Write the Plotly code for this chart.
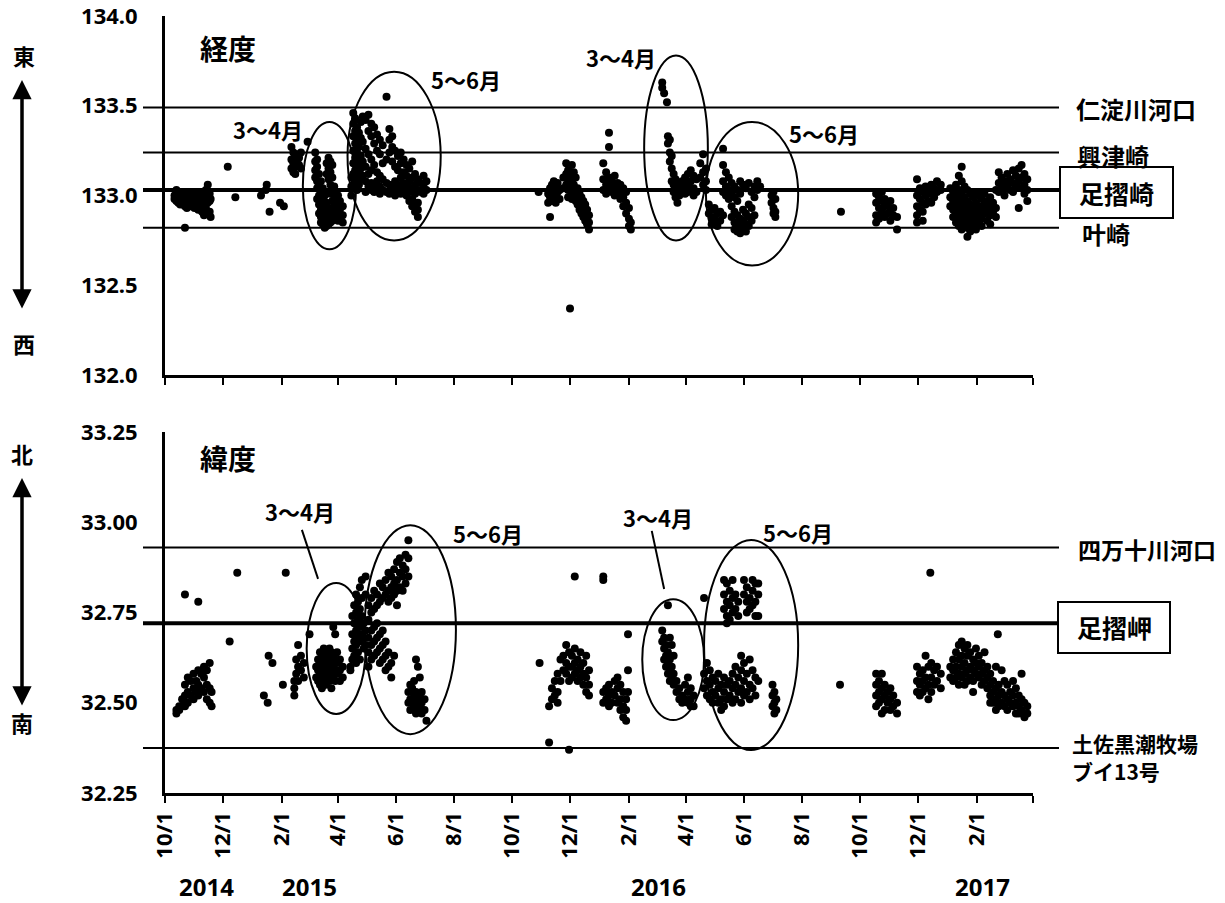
import plotly.graph_objects as go

# ---------------------------------------------------------------------------
# Observations: (date, [values recorded around that date])
# ---------------------------------------------------------------------------
LON_2014_AUTUMN = [
    ("2014-10-11", [133.00, 132.98]), ("2014-10-13", [133.03, 132.97]),
    ("2014-10-15", [132.99, 132.96]), ("2014-10-17", [133.02, 132.98, 132.95]),
    ("2014-10-20", [133.00, 132.97]), ("2014-10-22", [132.99, 132.94, 132.82]),
    ("2014-10-24", [133.01, 132.96, 132.93]), ("2014-10-26", [132.98, 132.95]),
    ("2014-10-28", [133.00, 132.97, 132.94]), ("2014-10-30", [132.99, 132.96]),
    ("2014-11-01", [133.01, 132.97, 132.93]), ("2014-11-03", [132.98, 132.95]),
    ("2014-11-05", [133.00, 132.96, 132.92]), ("2014-11-07", [132.99, 132.94]),
    ("2014-11-09", [133.02, 132.97, 132.91]), ("2014-11-11", [132.99, 132.95, 132.89]),
    ("2014-11-13", [133.03, 132.98, 132.93]), ("2014-11-15", [133.06, 133.00, 132.96]),
    ("2014-11-17", [133.01, 132.97, 132.91]), ("2014-11-18", [132.98, 132.88]),
    ("2014-12-06", [133.16]), ("2014-12-14", [132.99]),
]
LON_2015_WINTER = [
    ("2015-01-10", [133.00]), ("2015-01-15", [133.03]), ("2015-01-16", [133.06]),
    ("2015-01-19", [132.91]), ("2015-01-30", [132.96]), ("2015-02-03", [132.94]),
    ("2015-02-11", [133.27, 133.20, 133.15]), ("2015-02-13", [133.24, 133.18, 133.13]),
    ("2015-02-15", [133.22, 133.16, 133.12]), ("2015-02-17", [133.23, 133.19]),
    ("2015-02-19", [133.21, 133.17]), ("2015-02-21", [133.24, 133.15]),
    ("2015-02-28", [133.30]),
]
LON_2015_SPRING = [
    ("2015-03-08", [133.24, 133.19, 133.14, 133.10]),
    ("2015-03-10", [133.20, 133.16, 133.08, 133.04, 132.98]),
    ("2015-03-12", [133.12, 133.05, 133.00, 132.95, 132.90]),
    ("2015-03-14", [133.08, 133.02, 132.97, 132.92, 132.88, 132.85]),
    ("2015-03-16", [133.04, 132.99, 132.94, 132.89, 132.84]),
    ("2015-03-18", [133.00, 132.95, 132.90, 132.86, 132.82]),
    ("2015-03-20", [133.18, 133.12, 132.96, 132.91, 132.87, 132.83]),
    ("2015-03-22", [133.21, 133.15, 133.09, 132.93, 132.88, 132.84]),
    ("2015-03-24", [133.19, 133.13, 133.06, 133.01, 132.90, 132.85]),
    ("2015-03-26", [133.17, 133.10, 133.03, 132.97, 132.91, 132.86]),
    ("2015-03-28", [133.05, 133.00, 132.95, 132.90, 132.87]),
    ("2015-03-30", [133.02, 132.98, 132.93, 132.88]),
    ("2015-04-01", [133.00, 132.95, 132.91, 132.86]),
    ("2015-04-03", [132.97, 132.92, 132.87]),
    ("2015-04-06", [132.94, 132.89, 132.85]),
]
LON_2015_SUMMER = [
    ("2015-04-15", [133.10, 133.05, 133.00]),
    ("2015-04-17", [133.46, 133.40, 133.33, 133.25, 133.18, 133.12, 133.06]),
    ("2015-04-19", [133.43, 133.36, 133.29, 133.21, 133.14, 133.08]),
    ("2015-04-21", [133.38, 133.31, 133.24, 133.17, 133.10, 133.03]),
    ("2015-04-23", [133.35, 133.27, 133.20, 133.13, 133.06]),
    ("2015-04-25", [133.41, 133.32, 133.22, 133.15, 133.09]),
    ("2015-04-27", [133.44, 133.30, 133.19, 133.11]),
    ("2015-04-30", [133.42, 133.26, 133.16, 133.08, 133.02]),
    ("2015-05-03", [133.45, 133.36, 133.23, 133.12, 133.05]),
    ("2015-05-06", [133.40, 133.33, 133.20, 133.14, 133.07, 133.03]),
    ("2015-05-09", [133.38, 133.29, 133.17, 133.06, 133.02]),
    ("2015-05-12", [133.34, 133.25, 133.13, 133.08, 133.04]),
    ("2015-05-15", [133.31, 133.23, 133.11, 133.05, 133.01]),
    ("2015-05-18", [133.28, 133.18, 133.09, 133.03]),
    ("2015-05-22", [133.55, 133.20, 133.07, 133.02]),
    ("2015-05-25", [133.37, 133.31, 133.24, 133.06, 133.01]),
    ("2015-05-28", [133.33, 133.27, 133.19, 133.05, 133.03]),
    ("2015-05-31", [133.25, 133.16, 133.08, 133.04, 133.00]),
    ("2015-06-03", [133.22, 133.14, 133.06, 133.02]),
    ("2015-06-06", [133.24, 133.18, 133.10, 133.04, 133.01]),
    ("2015-06-09", [133.20, 133.13, 133.07, 133.03]),
    ("2015-06-12", [133.17, 133.11, 133.05, 133.00]),
    ("2015-06-15", [133.15, 133.08, 133.02, 132.97]),
    ("2015-06-18", [133.19, 133.10, 133.04, 132.98, 132.94]),
    ("2015-06-21", [133.12, 133.06, 133.01, 132.95, 132.91]),
    ("2015-06-24", [133.09, 133.03, 132.96, 132.92, 132.88]),
    ("2015-06-27", [133.07, 133.02]),
    ("2015-06-30", [133.11, 133.05, 133.01]),
    ("2015-07-03", [133.08, 133.03]),
]
LON_2015_AUTUMN = [
    ("2015-10-29", [133.02]), ("2015-11-08", [133.01, 132.96]),
    ("2015-11-10", [133.04, 132.99, 132.88]), ("2015-11-12", [133.06, 133.01, 132.97]),
    ("2015-11-14", [133.08, 133.03]), ("2015-11-16", [133.05, 133.00, 132.96]),
    ("2015-11-18", [133.07, 133.02]), ("2015-11-20", [133.03, 132.98]),
    ("2015-11-24", [133.10, 133.04]), ("2015-11-27", [133.18, 133.12, 133.06]),
    ("2015-11-29", [133.14, 133.09, 133.03, 132.99]), ("2015-12-01", [133.11, 133.05, 132.37]),
    ("2015-12-03", [133.17, 133.08, 133.02, 132.98]), ("2015-12-05", [133.13, 133.06, 133.00]),
    ("2015-12-07", [133.10, 133.03, 132.97]), ("2015-12-09", [133.04, 133.00, 132.95]),
    ("2015-12-11", [133.01, 132.96, 132.92]), ("2015-12-13", [132.99, 132.94, 132.90]),
    ("2015-12-15", [132.97, 132.92, 132.88]), ("2015-12-17", [132.95, 132.90, 132.86]),
    ("2015-12-19", [132.92, 132.87, 132.84]), ("2015-12-21", [132.89, 132.85, 132.81]),
]
LON_2016_WINTER = [
    ("2016-01-05", [133.18, 133.09, 133.03]), ("2016-01-08", [133.13, 133.06, 133.01]),
    ("2016-01-11", [133.35, 133.27, 133.10, 133.04]), ("2016-01-14", [133.08, 133.02]),
    ("2016-01-17", [133.11, 133.05, 133.00]), ("2016-01-20", [133.07, 133.03]),
    ("2016-01-23", [133.06, 133.01, 132.98]), ("2016-01-26", [133.04, 132.99, 132.94]),
    ("2016-01-29", [133.02, 132.96, 132.90]), ("2016-02-01", [132.93, 132.87, 132.83]),
    ("2016-02-03", [132.85, 132.81]),
]
LON_2016_SPRING = [
    ("2016-03-07", [133.63, 133.60]), ("2016-03-09", [133.57]), ("2016-03-12", [133.52]),
    ("2016-03-13", [133.33, 133.29]), ("2016-03-15", [133.31, 133.24, 133.19]),
    ("2016-03-17", [133.22, 133.15, 133.08]), ("2016-03-19", [133.12, 133.06, 133.02]),
    ("2016-03-21", [133.09, 133.04, 132.99]), ("2016-03-23", [133.07, 133.01, 132.96]),
    ("2016-03-25", [133.05, 133.00]), ("2016-03-28", [133.08, 133.03]),
    ("2016-03-31", [133.10, 133.05, 133.01]), ("2016-04-03", [133.12, 133.06, 133.02]),
    ("2016-04-06", [133.14, 133.08, 133.03]), ("2016-04-09", [133.11, 133.04, 133.00]),
    ("2016-04-12", [133.09, 133.02]), ("2016-04-16", [133.18, 133.10]),
    ("2016-04-19", [133.23, 133.13, 133.06]), ("2016-04-22", [133.15, 133.08, 133.03]),
]
LON_2016_SUMMER = [
    ("2016-04-25", [132.95, 132.90]), ("2016-04-28", [132.92, 132.87, 132.84]),
    ("2016-05-01", [132.93, 132.88]), ("2016-05-04", [132.90, 132.85, 132.83]),
    ("2016-05-07", [132.91, 132.86]),
    ("2016-05-10", [133.26, 133.17, 133.08, 133.02, 132.89]),
    ("2016-05-13", [133.13, 133.05, 133.00]), ("2016-05-16", [133.10, 133.03, 132.98]),
    ("2016-05-19", [133.07, 133.01, 132.94, 132.88]),
    ("2016-05-22", [133.05, 132.99, 132.91, 132.85, 132.81]),
    ("2016-05-25", [133.03, 132.97, 132.89, 132.84, 132.80]),
    ("2016-05-28", [133.08, 133.01, 132.87, 132.83, 132.79]),
    ("2016-05-31", [133.06, 132.92, 132.86, 132.82]),
    ("2016-06-03", [133.04, 132.90, 132.84, 132.80]),
    ("2016-06-06", [133.07, 132.95, 132.88, 132.83]),
    ("2016-06-09", [133.02, 132.93, 132.86]), ("2016-06-12", [133.05, 132.99, 132.89]),
    ("2016-06-15", [133.08, 133.03]), ("2016-06-18", [133.05]),
    ("2016-06-30", [133.00, 132.96]), ("2016-07-02", [133.02, 132.93, 132.90]),
    ("2016-07-04", [132.98, 132.91, 132.88]), ("2016-09-11", [132.91]),
]
LON_2016_AUTUMN = [
    ("2016-10-18", [133.01, 132.96, 132.89, 132.85]), ("2016-10-21", [132.99, 132.93, 132.87]),
    ("2016-10-24", [133.02, 132.97, 132.91]), ("2016-10-27", [132.98, 132.94, 132.88]),
    ("2016-10-30", [132.95, 132.90]), ("2016-11-02", [132.97, 132.92, 132.86]),
    ("2016-11-05", [132.93, 132.89]), ("2016-11-09", [132.88, 132.81]),
    ("2016-11-30", [133.09, 133.00, 132.94, 132.89, 132.85]),
    ("2016-12-03", [133.04, 132.98, 132.92]), ("2016-12-06", [133.02, 132.96, 132.91, 132.86]),
    ("2016-12-09", [133.05, 133.00, 132.95]), ("2016-12-12", [133.03, 132.97]),
    ("2016-12-15", [133.06, 133.01, 132.96]), ("2016-12-18", [133.04, 132.99]),
    ("2016-12-21", [133.08, 133.02]), ("2016-12-25", [133.06, 133.03]),
]
LON_2017_WINTER = [
    ("2017-01-04", [133.04, 132.99, 132.94]), ("2017-01-07", [133.02, 132.97, 132.92, 132.88]),
    ("2017-01-10", [133.06, 133.00, 132.95, 132.90, 132.85]),
    ("2017-01-13", [133.11, 133.03, 132.98, 132.93, 132.88, 132.83]),
    ("2017-01-16", [133.16, 133.08, 133.01, 132.96, 132.91, 132.86, 132.81]),
    ("2017-01-19", [133.05, 132.99, 132.94, 132.89, 132.84]),
    ("2017-01-22", [133.03, 132.97, 132.92, 132.87, 132.82, 132.77]),
    ("2017-01-25", [133.01, 132.95, 132.90, 132.85, 132.80]),
    ("2017-01-28", [132.99, 132.93, 132.88, 132.84]),
    ("2017-01-31", [133.02, 132.96, 132.91, 132.86, 132.81]),
    ("2017-02-03", [133.00, 132.94, 132.89, 132.85]),
    ("2017-02-06", [132.98, 132.92, 132.87, 132.83]),
    ("2017-02-09", [133.01, 132.95, 132.90]), ("2017-02-12", [132.97, 132.92, 132.86]),
    ("2017-02-15", [132.99, 132.94, 132.89, 132.84]), ("2017-02-18", [132.96, 132.91]),
    ("2017-02-21", [133.03, 132.93, 132.88]), ("2017-02-24", [133.13, 133.07, 133.02]),
    ("2017-02-27", [133.10, 133.05]), ("2017-03-02", [133.08, 133.04, 133.00]),
    ("2017-03-05", [133.12, 133.06]), ("2017-03-08", [133.09, 133.03]),
    ("2017-03-11", [133.14, 133.07, 133.02]), ("2017-03-14", [133.11, 133.05]),
    ("2017-03-17", [133.15, 133.08, 132.93]), ("2017-03-20", [133.17, 133.10, 133.04]),
    ("2017-03-23", [133.12, 133.06, 133.01]), ("2017-03-26", [133.09, 133.03, 132.97]),
]

LAT_2014_AUTUMN = [
    ("2014-10-13", [32.48, 32.47]), ("2014-10-16", [32.49, 32.48]),
    ("2014-10-19", [32.51, 32.49]), ("2014-10-22", [32.80, 32.55, 32.52, 32.49]),
    ("2014-10-25", [32.57, 32.53, 32.50]), ("2014-10-28", [32.56, 32.52]),
    ("2014-10-31", [32.58, 32.54, 32.51]), ("2014-11-03", [32.56, 32.53]),
    ("2014-11-05", [32.78, 32.59, 32.55, 32.52]), ("2014-11-08", [32.58, 32.54]),
    ("2014-11-11", [32.60, 32.57, 32.53]), ("2014-11-14", [32.59, 32.55, 32.51]),
    ("2014-11-17", [32.61, 32.54, 32.50]), ("2014-11-19", [32.53, 32.49]),
    ("2014-12-08", [32.67]), ("2014-12-16", [32.86]),
]
LAT_2015_WINTER = [
    ("2015-01-13", [32.52]), ("2015-01-17", [32.50]), ("2015-01-18", [32.63]),
    ("2015-01-22", [32.61]), ("2015-02-02", [32.55]), ("2015-02-05", [32.86]),
    ("2015-02-14", [32.56, 32.54, 32.52]), ("2015-02-16", [32.62, 32.58]),
    ("2015-02-18", [32.66, 32.60, 32.56]), ("2015-02-21", [32.63, 32.59]),
    ("2015-02-24", [32.61, 32.57]), ("2015-03-02", [32.69]),
]
LAT_2015_SPRING = [
    ("2015-03-09", [32.60, 32.57]), ("2015-03-11", [32.62, 32.59, 32.56]),
    ("2015-03-13", [32.64, 32.61, 32.58, 32.55]), ("2015-03-15", [32.63, 32.60, 32.57, 32.54]),
    ("2015-03-17", [32.65, 32.62, 32.59, 32.56]), ("2015-03-19", [32.64, 32.61, 32.58, 32.55]),
    ("2015-03-21", [32.63, 32.60, 32.57]), ("2015-03-23", [32.65, 32.62, 32.59, 32.56]),
    ("2015-03-25", [32.64, 32.61, 32.58, 32.54]), ("2015-03-27", [32.71, 32.63, 32.60, 32.57]),
    ("2015-03-29", [32.69, 32.62, 32.59, 32.56]), ("2015-03-31", [32.64, 32.61, 32.58]),
    ("2015-04-03", [32.62, 32.59, 32.56]), ("2015-04-06", [32.60, 32.57]),
    ("2015-04-14", [32.60, 32.59]), ("2015-04-16", [32.74, 32.69, 32.65, 32.62]),
    ("2015-04-18", [32.77, 32.72, 32.67, 32.63]), ("2015-04-20", [32.80, 32.75, 32.70, 32.66, 32.61]),
    ("2015-04-22", [32.78, 32.73, 32.68, 32.64]), ("2015-04-24", [32.82, 32.76, 32.71, 32.67, 32.62]),
    ("2015-04-26", [32.84, 32.79, 32.74, 32.69]), ("2015-04-28", [32.72, 32.68, 32.65]),
    ("2015-04-30", [32.85, 32.80, 32.70, 32.66]),
]
LAT_2015_SUMMER = [
    ("2015-05-03", [32.77, 32.73, 32.68, 32.64, 32.60]),
    ("2015-05-06", [32.79, 32.75, 32.70, 32.66, 32.62]),
    ("2015-05-09", [32.81, 32.76, 32.71, 32.67, 32.63]),
    ("2015-05-12", [32.80, 32.77, 32.72, 32.68, 32.64]),
    ("2015-05-15", [32.83, 32.78, 32.69, 32.65, 32.61]),
    ("2015-05-18", [32.82, 32.79, 32.70, 32.66, 32.62]),
    ("2015-05-21", [32.84, 32.80, 32.67, 32.63, 32.59]),
    ("2015-05-24", [32.86, 32.81, 32.78, 32.64, 32.60]),
    ("2015-05-27", [32.85, 32.82, 32.79, 32.61, 32.57]),
    ("2015-05-30", [32.87, 32.83, 32.80, 32.63]),
    ("2015-06-02", [32.89, 32.84, 32.81, 32.77]),
    ("2015-06-05", [32.90, 32.86, 32.82]), ("2015-06-08", [32.88, 32.85, 32.81]),
    ("2015-06-11", [32.91, 32.87, 32.83]),
    ("2015-06-14", [32.95, 32.90, 32.85, 32.53, 32.50]),
    ("2015-06-16", [32.55, 32.51, 32.48]), ("2015-06-18", [32.54, 32.50]),
    ("2015-06-20", [32.56, 32.52, 32.49]), ("2015-06-22", [32.62, 32.53, 32.50, 32.47]),
    ("2015-06-24", [32.60, 32.51, 32.48]), ("2015-06-26", [32.57, 32.52, 32.49]),
    ("2015-06-28", [32.53, 32.50, 32.47]), ("2015-07-01", [32.51, 32.48]),
    ("2015-07-03", [32.45]),
]
LAT_2015_AUTUMN = [
    ("2015-10-30", [32.61]), ("2015-11-09", [32.49, 32.39]),
    ("2015-11-12", [32.54, 32.51]), ("2015-11-15", [32.56, 32.52]),
    ("2015-11-18", [32.58, 32.53, 32.50]), ("2015-11-21", [32.62, 32.56]),
    ("2015-11-24", [32.63, 32.59]), ("2015-11-27", [32.66, 32.61, 32.58]),
    ("2015-11-30", [32.64, 32.60, 32.56, 32.37]), ("2015-12-03", [32.63, 32.60, 32.57]),
    ("2015-12-06", [32.85, 32.65, 32.61, 32.58]), ("2015-12-09", [32.62, 32.59, 32.56]),
    ("2015-12-12", [32.64, 32.60, 32.57]), ("2015-12-15", [32.61, 32.58, 32.55]),
    ("2015-12-18", [32.63, 32.57, 32.53]), ("2015-12-21", [32.59, 32.55, 32.52]),
]
LAT_2016_WINTER = [
    ("2016-01-05", [32.85, 32.84, 32.53, 32.50]), ("2016-01-08", [32.54, 32.51]),
    ("2016-01-11", [32.55, 32.52, 32.49]), ("2016-01-14", [32.53, 32.50]),
    ("2016-01-17", [32.56, 32.52]), ("2016-01-20", [32.57, 32.54, 32.50]),
    ("2016-01-23", [32.55, 32.51, 32.48]), ("2016-01-26", [32.53, 32.49, 32.46]),
    ("2016-01-29", [32.51, 32.48, 32.45]), ("2016-01-31", [32.69, 32.59, 32.53]),
]
LAT_2016_SPRING = [
    ("2016-03-07", [32.70, 32.67]), ("2016-03-09", [32.68, 32.65, 32.62]),
    ("2016-03-11", [32.66, 32.63, 32.60]), ("2016-03-13", [32.77, 32.64, 32.61, 32.58]),
    ("2016-03-15", [32.68, 32.62, 32.59, 32.56]), ("2016-03-17", [32.66, 32.60, 32.57]),
    ("2016-03-19", [32.63, 32.58, 32.55]), ("2016-03-22", [32.56, 32.53]),
    ("2016-03-25", [32.54, 32.51]), ("2016-03-28", [32.52, 32.50]),
    ("2016-03-31", [32.55, 32.51]), ("2016-04-03", [32.57, 32.53, 32.50]),
    ("2016-04-06", [32.54, 32.51, 32.49]), ("2016-04-09", [32.52, 32.49]),
]
LAT_2016_SUMMER = [
    ("2016-04-20", [32.79, 32.58, 32.54]), ("2016-04-23", [32.61, 32.56, 32.52]),
    ("2016-04-26", [32.59, 32.55, 32.51]), ("2016-04-29", [32.57, 32.53, 32.50]),
    ("2016-05-02", [32.56, 32.52]), ("2016-05-05", [32.58, 32.54, 32.50]),
    ("2016-05-08", [32.55, 32.51, 32.48]),
    ("2016-05-11", [32.84, 32.80, 32.76, 32.57, 32.53, 32.49]),
    ("2016-05-14", [32.83, 32.78, 32.74, 32.72, 32.55, 32.51]),
    ("2016-05-17", [32.81, 32.77, 32.73, 32.56, 32.52]),
    ("2016-05-20", [32.84, 32.79, 32.75, 32.58, 32.54, 32.50]),
    ("2016-05-23", [32.80, 32.76, 32.60, 32.55, 32.51]),
    ("2016-05-26", [32.78, 32.74, 32.57, 32.53]),
    ("2016-05-29", [32.63, 32.59, 32.54, 32.50]),
    ("2016-06-01", [32.84, 32.80, 32.61, 32.56, 32.52]),
    ("2016-06-04", [32.82, 32.78, 32.75, 32.58, 32.53]),
    ("2016-06-07", [32.79, 32.76, 32.62, 32.55, 32.51]),
    ("2016-06-10", [32.84, 32.81, 32.77, 32.59, 32.54]),
    ("2016-06-13", [32.83, 32.78, 32.74, 32.57, 32.52]),
    ("2016-06-16", [32.83, 32.80, 32.74, 32.56]),
    ("2016-07-01", [32.55, 32.52, 32.49]), ("2016-07-03", [32.53, 32.50, 32.47]),
    ("2016-07-05", [32.51, 32.48]), ("2016-09-10", [32.55]),
]
LAT_2016_AUTUMN = [
    ("2016-10-18", [32.58, 32.55, 32.52, 32.49]), ("2016-10-21", [32.56, 32.53, 32.50]),
    ("2016-10-24", [32.58, 32.54, 32.51, 32.47]), ("2016-10-27", [32.55, 32.52, 32.48]),
    ("2016-10-30", [32.53, 32.50]), ("2016-11-02", [32.54, 32.51, 32.48]),
    ("2016-11-05", [32.52, 32.49]), ("2016-11-09", [32.50, 32.47]),
    ("2016-11-30", [32.60, 32.56, 32.53]), ("2016-12-03", [32.58, 32.55, 32.52]),
    ("2016-12-06", [32.59, 32.56, 32.53]), ("2016-12-09", [32.63, 32.57, 32.54]),
    ("2016-12-12", [32.60, 32.55, 32.51]), ("2016-12-14", [32.86]),
    ("2016-12-15", [32.61, 32.57, 32.53]), ("2016-12-18", [32.59, 32.55]),
    ("2016-12-21", [32.60, 32.56]), ("2016-12-25", [32.58, 32.54]),
]
LAT_2017_WINTER = [
    ("2017-01-04", [32.60, 32.57]), ("2017-01-07", [32.62, 32.59, 32.56]),
    ("2017-01-10", [32.64, 32.60, 32.57]), ("2017-01-13", [32.66, 32.62, 32.58, 32.55]),
    ("2017-01-16", [32.67, 32.63, 32.60, 32.57]), ("2017-01-19", [32.65, 32.61, 32.58, 32.55]),
    ("2017-01-22", [32.66, 32.63, 32.59, 32.56]), ("2017-01-25", [32.64, 32.60, 32.57]),
    ("2017-01-28", [32.62, 32.59, 32.56, 32.53]), ("2017-01-31", [32.65, 32.61, 32.58]),
    ("2017-02-03", [32.63, 32.60, 32.57]), ("2017-02-06", [32.61, 32.58, 32.55]),
    ("2017-02-09", [32.64, 32.59, 32.56]), ("2017-02-12", [32.60, 32.57, 32.54]),
    ("2017-02-15", [32.58, 32.55, 32.52, 32.50]), ("2017-02-18", [32.56, 32.53, 32.50]),
    ("2017-02-21", [32.60, 32.54, 32.51, 32.48]), ("2017-02-23", [32.69]),
    ("2017-02-24", [32.55, 32.52, 32.49]), ("2017-02-27", [32.59, 32.53, 32.50]),
    ("2017-03-02", [32.56, 32.52, 32.49]), ("2017-03-05", [32.55, 32.51, 32.48]),
    ("2017-03-08", [32.53, 32.50]), ("2017-03-11", [32.56, 32.52, 32.49]),
    ("2017-03-14", [32.54, 32.50, 32.47]), ("2017-03-17", [32.52, 32.49, 32.47]),
    ("2017-03-20", [32.58, 32.51, 32.48]), ("2017-03-23", [32.50, 32.47, 32.46]),
    ("2017-03-26", [32.49, 32.47]),
]

LON_SERIES = [LON_2014_AUTUMN, LON_2015_WINTER, LON_2015_SPRING, LON_2015_SUMMER,
              LON_2015_AUTUMN, LON_2016_WINTER, LON_2016_SPRING, LON_2016_SUMMER,
              LON_2016_AUTUMN, LON_2017_WINTER]
LAT_SERIES = [LAT_2014_AUTUMN, LAT_2015_WINTER, LAT_2015_SPRING, LAT_2015_SUMMER,
              LAT_2015_AUTUMN, LAT_2016_WINTER, LAT_2016_SPRING, LAT_2016_SUMMER,
              LAT_2016_AUTUMN, LAT_2017_WINTER]

# Reference landmarks
LON_LANDMARKS = {"仁淀川河口": 133.49, "興津崎": 133.24, "足摺崎": 133.03, "叶崎": 132.82}
LAT_LANDMARKS = {"四万十川河口": 32.93, "足摺岬": 32.72, "土佐黒潮牧場": 32.375}

# Axis ticks
TICK_DATES = ["2014-10-01", "2014-12-01", "2015-02-01", "2015-04-01", "2015-06-01",
              "2015-08-01", "2015-10-01", "2015-12-01", "2016-02-01", "2016-04-01",
              "2016-06-01", "2016-08-01", "2016-10-01", "2016-12-01", "2017-02-01",
              "2017-04-01"]
TICK_TEXT = ["10/1", "12/1", "2/1", "4/1", "6/1", "8/1", "10/1", "12/1", "2/1",
             "4/1", "6/1", "8/1", "10/1", "12/1", "2/1", ""]
YEAR_LABELS = [("2014", "2014-11-14"), ("2015", "2015-03-02"),
               ("2016", "2016-03-03"), ("2017", "2017-02-07")]

X_RANGE = ["2014-10-01", "2017-04-01"]
LON_RANGE = [132.0, 134.0]
LAT_RANGE = [32.25, 33.25]

# Highlighted seasons: (start, end, low, high)
LON_SEASONS = [
    ("2015-02-23", "2015-04-20", 132.70, 133.41),
    ("2015-04-11", "2015-07-18", 132.75, 133.69),
    ("2016-02-17", "2016-04-24", 132.75, 133.78),
    ("2016-04-22", "2016-07-28", 132.61, 133.41),
]
LAT_SEASONS = [
    ("2015-02-27", "2015-04-30", 32.469, 32.832),
    ("2015-04-29", "2015-08-03", 32.413, 32.992),
    ("2016-02-15", "2016-04-20", 32.452, 32.787),
    ("2016-04-20", "2016-07-28", 32.369, 32.951),
]
LON_SEASON_LABELS = [("3～4月", "2015-01-17", 133.37), ("5～6月", "2015-08-14", 133.65),
                     ("3～4月", "2016-01-24", 133.77), ("5～6月", "2016-08-24", 133.35)]
LAT_SEASON_LABELS = [("3～4月", "2015-02-20", 33.03), ("5～6月", "2015-09-06", 32.97),
                     ("3～4月", "2016-03-03", 33.015), ("5～6月", "2016-07-28", 32.973)]
LAT_LEADERS = [("2015-02-22", 32.979, "2015-03-11", 32.843),
               ("2016-02-25", 32.976, "2016-03-09", 32.815)]


def expand(series):
    xs, ys = [], []
    for block in series:
        for day, vals in block:
            for v in vals:
                xs.append(day)
                ys.append(v)
    return xs, ys


# ---------------------------------------------------------------------------
# Figure geometry
# ---------------------------------------------------------------------------
W, H = 1225, 903
ML, MR, MT, MB = 165, 192, 16, 110
PW, PH = W - ML - MR, H - MT - MB


def px(x):
    return (x - ML) / PW


def py(y):
    return (H - MB - y) / PH


FONT = "Noto Sans, Noto Sans CJK JP, sans-serif"
JP = "Noto Sans CJK JP, Noto Sans, sans-serif"

fig = go.Figure()
lon_x, lon_y = expand(LON_SERIES)
lat_x, lat_y = expand(LAT_SERIES)
marker = dict(color="black", size=8, line=dict(width=0))
fig.add_trace(go.Scatter(x=lon_x, y=lon_y, mode="markers", marker=marker,
                         xaxis="x", yaxis="y", showlegend=False))
fig.add_trace(go.Scatter(x=lat_x, y=lat_y, mode="markers", marker=marker,
                         xaxis="x2", yaxis="y2", showlegend=False))

xcommon = dict(type="date", range=X_RANGE, showgrid=False, zeroline=False,
               showline=True, linecolor="black", linewidth=3, automargin=False,
               ticks="outside", ticklen=7, tickwidth=2, tickcolor="black",
               ticklabeloverflow="allow",
               tickmode="array", tickvals=TICK_DATES, ticktext=TICK_TEXT)
ycommon = dict(showgrid=False, zeroline=False, showline=True, linecolor="black",
               linewidth=3, ticks="", automargin=False, ticklabeloverflow="allow",
               tickfont=dict(family=FONT, size=22, color="black", weight="bold"),
               ticklabelstandoff=20)

fig.update_layout(
    width=W, height=H, margin=dict(l=ML, r=MR, t=MT, b=MB, autoexpand=False),
    paper_bgcolor="white", plot_bgcolor="white",
    font=dict(family=FONT, color="black"),
    xaxis=dict(**xcommon, anchor="y", showticklabels=False),
    xaxis2=dict(**xcommon, anchor="y2", tickangle=-90,
                tickfont=dict(family=FONT, size=22, color="black", weight="bold")),
    yaxis=dict(**ycommon, domain=[py(375), 1.0], range=LON_RANGE, dtick=0.5,
               tickformat=".1f", anchor="x"),
    yaxis2=dict(**ycommon, domain=[0.0, py(432)], range=LAT_RANGE, dtick=0.25,
                tickformat=".2f", anchor="x2"),
)

shapes = []
annotations = []

# Landmark reference lines
for name, v in LON_LANDMARKS.items():
    thick = name == "足摺崎"
    shapes.append(dict(type="line", xref="paper", yref="y", x0=px(143), x1=px(1059),
                       y0=v, y1=v, line=dict(color="black", width=4 if thick else 2)))
for name, v in LAT_LANDMARKS.items():
    thick = name == "足摺岬"
    shapes.append(dict(type="line", xref="paper", yref="y2", x0=px(143), x1=px(1059),
                       y0=v, y1=v, line=dict(color="black", width=4 if thick else 2)))

# Season ellipses
for x0, x1, y0, y1 in LON_SEASONS:
    shapes.append(dict(type="circle", xref="x", yref="y", x0=x0, x1=x1, y0=y0, y1=y1,
                       line=dict(color="black", width=2)))
for x0, x1, y0, y1 in LAT_SEASONS:
    shapes.append(dict(type="circle", xref="x2", yref="y2", x0=x0, x1=x1, y0=y0, y1=y1,
                       line=dict(color="black", width=2)))
for x0, y0, x1, y1 in LAT_LEADERS:
    shapes.append(dict(type="line", xref="x2", yref="y2", x0=x0, y0=y0, x1=x1, y1=y1,
                       line=dict(color="black", width=2)))

# Boxes around the cape names
shapes.append(dict(type="rect", xref="paper", yref="paper", x0=px(1060), x1=px(1173),
                   y0=py(218), y1=py(167), line=dict(color="black", width=2),
                   fillcolor="white"))
shapes.append(dict(type="rect", xref="paper", yref="paper", x0=px(1058), x1=px(1170),
                   y0=py(653), y1=py(602), line=dict(color="black", width=2),
                   fillcolor="white"))


def label(text, x, y, size, xanchor="center", xref="paper", yref="paper", family=JP):
    annotations.append(dict(text=text, x=x, y=y, xref=xref, yref=yref,
                            xanchor=xanchor, yanchor="middle", showarrow=False,
                            align="left", font=dict(family=family, size=size,
                                                    color="black", weight="bold")))


for text, d, v in LON_SEASON_LABELS:
    label(text, d, v, 22, xref="x", yref="y")
for text, d, v in LAT_SEASON_LABELS:
    label(text, d, v, 22, xref="x2", yref="y2")

# Panel titles
label("経度", px(228), py(48), 28)
label("緯度", px(228), py(458), 28)

# Landmark names on the right
label("仁淀川河口", px(1074), py(109), 24, xanchor="left")
label("興津崎", px(1075), py(155), 24, xanchor="left")
label("足摺崎", px(1116), py(193), 25)
label("叶崎", px(1080), py(233), 24, xanchor="left")
label("四万十川河口", px(1076), py(549), 23, xanchor="left")
label("足摺岬", px(1114), py(627), 25)
label("土佐黒潮牧場", px(1070), py(743), 21, xanchor="left")
label("ブイ13号", px(1070), py(771), 21, xanchor="left")

# Compass hints on the left
label("東", px(24), py(55), 22)
label("西", px(24), py(343), 22)
label("北", px(22), py(453), 22)
label("南", px(22), py(722), 22)
for top, bottom in [(80, 310), (478, 707)]:
    annotations.append(dict(text="", x=px(22), y=py(top), xref="paper", yref="paper",
                            ax=0, ay=bottom - top, axref="pixel", ayref="pixel",
                            showarrow=True, arrowhead=2, arrowside="end+start",
                            arrowsize=1.1, arrowwidth=3.5, arrowcolor="black"))

# Year labels under the date axis
for yr, d in YEAR_LABELS:
    label(yr, d, py(886), 24, xref="x2", family=FONT)

fig.update_layout(shapes=shapes, annotations=annotations)
fig.write_html("out.html")
